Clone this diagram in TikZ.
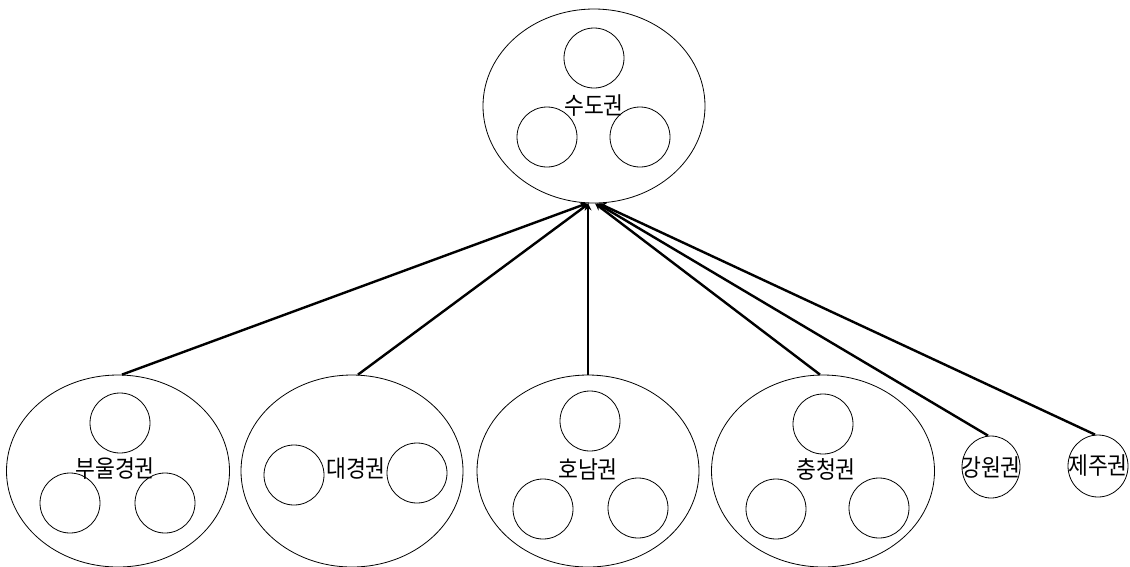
\documentclass[tikz,border=0pt]{standalone}
\usepackage{fontspec}
\newfontfamily\kr[FakeStretch=0.9]{Noto Sans CJK KR}
\usetikzlibrary{shapes.geometric,arrows.meta}
\begin{document}
\begin{tikzpicture}[x=1pt,y=-1pt,
  region/.style={ellipse,draw,line width=0.8pt,inner sep=0pt},
  lbl/.style={font=\kr\fontsize{24}{26}\selectfont,inner sep=0pt},
  sub/.style={circle,draw,line width=0.8pt,inner sep=0pt,minimum size=60pt},
  link/.style={line width=2.4pt,-{Stealth[length=7pt,width=7pt]}}]
\fill[white] (0,0) rectangle (1130,566);
\useasboundingbox (0,0) rectangle (1130,566);
% capital region
\node[region,minimum width=222pt,minimum height=194pt,label={[lbl]center:수도권}] (sudo) at (594,106) {};
\node[sub] (sudo1) at (594,58) {};
\node[sub] (sudo2) at (547,137) {};
\node[sub] (sudo3) at (640,137) {};
% bottom regions
\node[region,minimum width=223pt,minimum height=192pt,label={[lbl,xshift=-3pt,yshift=2pt]center:부울경권}] (bu) at (118,471) {};
\node[sub] (bu1) at (120,423) {};
\node[sub] (bu2) at (70,503) {};
\node[sub] (bu3) at (165,503) {};
\node[region,minimum width=222pt,minimum height=192pt,label={[lbl,xshift=4pt,yshift=2pt]center:대경권}] (dae) at (352,471) {};
\node[sub] (dae1) at (294,475) {};
\node[sub] (dae2) at (417,473) {};
\node[region,minimum width=222pt,minimum height=192pt,label={[lbl,yshift=2pt]center:호남권}] (ho) at (588,471) {};
\node[sub] (ho1) at (590,421) {};
\node[sub] (ho2) at (543,509) {};
\node[sub] (ho3) at (638,508) {};
\node[region,minimum width=223pt,minimum height=192pt,label={[lbl,xshift=3pt,yshift=2pt]center:충청권}] (chung) at (823,471) {};
\node[sub] (chung1) at (823,424) {};
\node[sub] (chung2) at (776,509) {};
\node[sub] (chung3) at (879,508) {};
\node[region,minimum width=58pt,minimum height=62pt,label={[lbl]center:강원권}] (gang) at (991,467) {};
\node[region,minimum width=60pt,minimum height=62pt,label={[lbl]center:제주권}] (jeju) at (1098,466) {};
% connectors
\draw[link] ([xshift=4pt]bu.north) -- ([xshift=-7pt]sudo.south);
\draw[link] ([xshift=6pt]dae.north) -- ([xshift=-5pt]sudo.south);
\draw[link] (ho.north) -- ([xshift=-6pt]sudo.south);
\draw[link] ([xshift=-3pt]chung.north) -- ([xshift=1pt]sudo.south);
\draw[link] ([xshift=-3pt]gang.north) -- ([xshift=3pt]sudo.south);
\draw[link] ([xshift=-3pt]jeju.north) -- ([xshift=5pt]sudo.south);
\end{tikzpicture}
\end{document}
